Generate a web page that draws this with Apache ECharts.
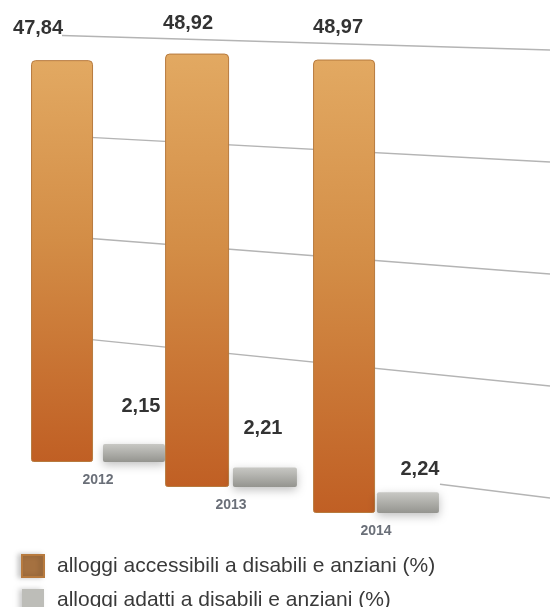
<!DOCTYPE html>
<html>
<head>
<meta charset="utf-8">
<script src="https://cdn.jsdelivr.net/npm/echarts@6/dist/echarts.min.js"></script>
<style>
  html, body { margin: 0; padding: 0; background: #ffffff; }
  #chart { width: 550px; height: 607px; }
</style>
</head>
<body>
<div id="chart"></div>
<script>
// Housing accessibility, 2012-2014
const years = ['2012', '2013', '2014'];
const accessibili = [47.84, 48.92, 48.97];
const adatti = [2.15, 2.21, 2.24];
const seriesNames = [
  'alloggi accessibili a disabili e anziani (%)',
  'alloggi adatti a disabili e anziani (%)'
];
const yMax = 50;
const yStep = 12.5;

// One panel per year; nearer years sit lower and are drawn a little larger.
const panels = [
  { center: 98,  top: 42, height: 420, barWidth: 62, barGap: '16%', dxA: -24, dxB: 7,  distB: 27, distA: 22 },
  { center: 231, top: 44, height: 443, barWidth: 64, barGap: '6%',  dxA: -9,  dxB: -2, distB: 29, distA: 20 },
  { center: 376, top: 50, height: 463, barWidth: 62, barGap: '3%',  dxA: -6,  dxB: 12, distB: 13, distA: 22 }
];
const panelWidth = 150;

const FONT = '"Liberation Sans", Arial, Helvetica, sans-serif';
const fmt = v => v.toFixed(2).replace('.', ',');

const orangeFill = new echarts.graphic.LinearGradient(0, 0, 0, 1, [
  { offset: 0, color: '#e2a962' },
  { offset: 0.45, color: '#d38d46' },
  { offset: 1, color: '#c05f24' }
]);
const greyFill = new echarts.graphic.LinearGradient(0, 0, 0, 1, [
  { offset: 0, color: '#c8c8c4' },
  { offset: 1, color: '#94948f' }
]);

const grids = [], xAxes = [], yAxes = [], series = [];
panels.forEach((p, i) => {
  grids.push({ left: p.center - panelWidth / 2, width: panelWidth, top: p.top, height: p.height });
  xAxes.push({
    type: 'category', gridIndex: i, data: [years[i]],
    axisLine: { show: false }, axisTick: { show: false }, splitLine: { show: false },
    axisLabel: { margin: 11, fontSize: 14, fontFamily: FONT, fontWeight: 'bold', color: '#6a6f78' }
  });
  yAxes.push({
    type: 'value', gridIndex: i, min: 0, max: yMax, interval: yStep, show: false
  });
  series.push({
    type: 'bar', name: seriesNames[0], xAxisIndex: i, yAxisIndex: i, z: 3,
    data: [accessibili[i]], barWidth: p.barWidth, barGap: p.barGap,
    itemStyle: { color: orangeFill, borderRadius: [4, 4, 2, 2], borderColor: '#b77a3e', borderWidth: 1 },
    label: {
      show: true, position: 'top', distance: p.distA, offset: [p.dxA, 0],
      formatter: d => fmt(d.value),
      fontSize: 20, fontWeight: 'bold', fontFamily: FONT, color: '#333333'
    }
  });
  series.push({
    type: 'bar', name: seriesNames[1], xAxisIndex: i, yAxisIndex: i, z: 3,
    data: [adatti[i]], barWidth: p.barWidth, barGap: p.barGap,
    itemStyle: { color: greyFill, borderRadius: 2, shadowBlur: 10, shadowColor: 'rgba(0,0,0,0.25)', shadowOffsetY: 3 },
    label: {
      show: true, position: 'top', distance: p.distB, offset: [p.dxB, 0],
      formatter: d => fmt(d.value),
      fontSize: 20, fontWeight: 'bold', fontFamily: FONT, color: '#333333'
    }
  });
});

const chart = echarts.init(document.getElementById('chart'), null, { renderer: 'canvas' });
chart.setOption({
  backgroundColor: '#ffffff',
  animation: false,
  grid: grids,
  xAxis: xAxes,
  yAxis: yAxes,
  series: series,
  legend: {
    orient: 'vertical', left: 21, top: 554, height: 80, padding: 0,
    itemWidth: 22, itemHeight: 22, itemGap: 11, icon: 'rect',
    selectedMode: false,
    textStyle: { fontSize: 21, fontFamily: FONT, color: '#3a3a3a', padding: [0, 0, 0, 8] },
    data: [
      { name: seriesNames[0], itemStyle: { color: '#a57140', shadowBlur: 5, shadowColor: 'rgba(0,0,0,0.2)', shadowOffsetX: -3 } },
      { name: seriesNames[1], itemStyle: { color: '#bdbdb8', shadowBlur: 5, shadowColor: 'rgba(0,0,0,0.2)', shadowOffsetX: -3 } }
    ]
  }
});

// Receding back-wall grid lines, one per axis step, converging toward the left.
// The floor line is only visible to the right of the last pair of bars.
const wall = { xl: 62, xr: 550, topL: 35.5, topR: 50, botL: 437, botR: 498, floorStart: 440 };
const wallY = (x, f) => {
  const t = (x - wall.xl) / (wall.xr - wall.xl);
  const top = wall.topL + (wall.topR - wall.topL) * t;
  const bot = wall.botL + (wall.botR - wall.botL) * t;
  return bot + (top - bot) * f;
};
const wallLines = [];
for (let v = 0; v <= yMax + 1e-9; v += yStep) {
  const f = v / yMax;
  const xs = v === 0 ? wall.floorStart : wall.xl;
  wallLines.push({
    type: 'line', z: 0, silent: true,
    shape: { x1: xs, y1: wallY(xs, f), x2: wall.xr, y2: wallY(wall.xr, f) },
    style: { stroke: '#b4b4b4', lineWidth: 1.4 }
  });
}
chart.setOption({ graphic: { elements: wallLines } });
</script>
</body>
</html>
